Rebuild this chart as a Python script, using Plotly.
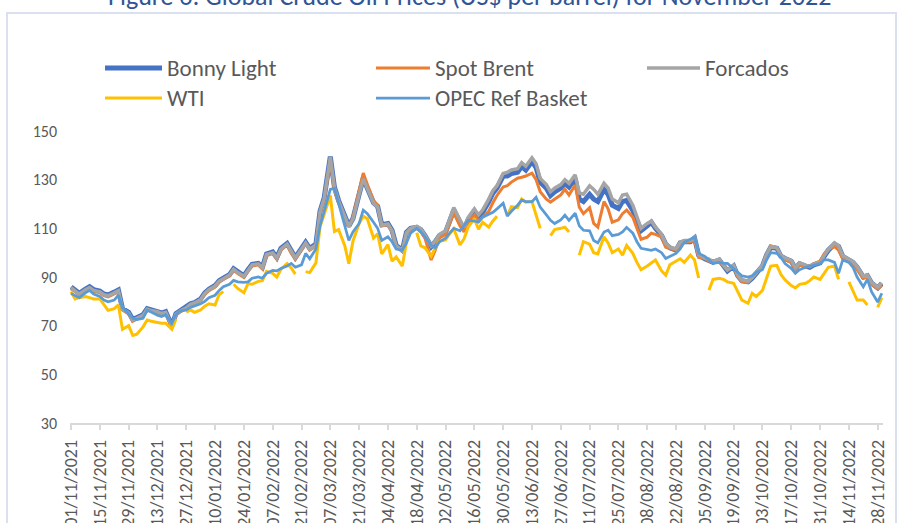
import pandas as pd
import plotly.graph_objects as go

# Trading dates sampled Mon/Wed/Fri, 01/11/2021 .. 30/11/2022
_all = pd.date_range("2021-11-01", "2022-11-30", freq="D")
dates = [d for d in _all if d.weekday() in (0, 2, 4)]

bonny_light = [
    85.9, 84.5, 83.3, 85.0, 86.0, 84.8, 84.2, 83.0, 82.6, 83.8, 84.7, 77.0,
    75.5, 72.5, 73.3, 74.5, 77.0, 76.5, 76.0, 75.2, 75.8, 70.0, 75.0, 76.2,
    77.5, 79.0, 79.5, 81.0, 83.5, 85.0, 86.5, 88.5, 89.5, 91.0, 93.4, 92.0,
    90.5, 93.0, 95.2, 95.6, 94.0, 99.5, 100.3, 98.0, 101.8, 103.8, 100.5, 98.0,
    101.8, 104.3, 101.8, 103.5, 117.0, 122.5, 139.5, 127.0, 121.5, 115.5, 111.0, 114.0,
    124.5, 130.6, 126.5, 120.5, 119.0, 111.5, 112.0, 109.2, 103.0, 101.0, 108.4, 110.0,
    110.4, 109.5, 107.0, 102.5, 104.5, 107.0, 108.4, 113.0, 117.5, 112.5, 109.5, 113.5,
    116.5, 114.5, 116.5, 121.0, 124.5, 126.5, 131.5, 131.5, 132.5, 133.0, 135.5, 134.0,
    137.5, 135.0, 129.0, 126.5, 123.5, 125.0, 126.5, 128.5, 127.0, 130.5, 122.0, 121.0,
    124.0, 122.0, 121.0, 126.0, 124.0, 119.5, 118.2, 121.0, 121.5, 117.4, 113.0, 109.0,
    111.0, 112.5, 110.0, 107.0, 103.5, 102.0, 101.0, 104.0, 104.5, 104.5, 106.0, 99.0,
    97.5, 97.0, 96.0, 97.0, 94.5, 92.5, 94.5, 90.5, 88.5, 88.0, 89.5, 91.5,
    94.5, 99.0, 102.2, 101.8, 98.5, 97.6, 96.5, 93.5, 95.5, 94.5, 94.0, 95.0,
    95.8, 98.5, 101.0, 103.5, 102.5, 98.5, 97.0, 96.0, 94.0, 90.0, 90.5, 87.5,
    85.5, 87.4,
]

spot_brent = [
    85.2, 84.0, 82.8, 84.3, 85.3, 84.2, 83.5, 82.3, 81.8, 83.0, 84.0, 76.5,
    74.8, 71.8, 72.8, 74.0, 76.3, 76.0, 75.3, 74.6, 75.2, 69.4, 74.4, 75.6,
    77.0, 78.4, 79.0, 80.4, 82.9, 84.4, 85.9, 87.8, 89.0, 90.4, 92.8, 91.4,
    89.8, 92.4, 94.5, 95.0, 93.3, 98.8, 99.6, 97.4, 101.1, 103.1, 99.8, 97.3,
    101.1, 103.6, 101.0, 102.7, 116.0, 121.5, 137.5, 125.5, 120.5, 114.0, 110.5, 114.5,
    125.5, 132.7, 128.0, 121.5, 119.5, 111.0, 111.5, 108.5, 102.5, 100.5, 107.5, 109.5,
    110.0, 108.5, 106.0, 97.0, 101.0, 106.0, 107.5, 112.0, 116.5, 111.0, 108.5, 112.5,
    115.5, 113.0, 114.5, 117.0, 120.5, 123.5, 127.0, 127.5, 129.0, 130.6, 131.0, 131.5,
    132.7, 130.0, 125.0, 122.0, 120.8, 122.0, 123.7, 126.0, 123.7, 127.8, 118.7, 116.0,
    118.5, 112.0, 110.5, 121.0, 118.0, 112.5, 113.5, 116.0, 117.5, 114.6, 110.0, 105.5,
    106.4, 108.0, 107.5, 106.4, 102.2, 101.8, 101.0, 103.0, 104.3, 104.5, 105.0, 98.0,
    97.6, 96.5, 96.0, 96.0, 95.0, 93.0, 94.0, 90.0, 88.0, 87.8, 89.8, 91.5,
    94.5, 99.0, 102.8, 102.0, 98.5, 97.0, 96.0, 93.0, 95.0, 94.0, 94.5, 95.5,
    96.5, 99.5, 101.5, 102.5, 101.0, 97.5, 96.5, 95.0, 93.0, 89.5, 90.0, 87.0,
    85.0, 86.5,
]

forcados = [
    85.6, 84.2, 83.0, 84.8, 85.7, 84.5, 83.9, 82.7, 82.3, 83.5, 84.4, 76.8,
    75.2, 72.3, 73.1, 74.2, 76.8, 76.2, 75.7, 75.0, 75.5, 69.8, 74.8, 76.0,
    77.3, 78.8, 79.3, 80.8, 83.3, 84.8, 86.3, 88.3, 89.3, 90.8, 93.2, 91.8,
    90.3, 92.8, 95.0, 95.4, 93.8, 99.3, 100.0, 97.8, 101.5, 103.5, 100.3, 97.8,
    101.5, 104.0, 101.5, 103.2, 116.8, 122.3, 139.3, 126.8, 121.3, 115.3, 110.8, 113.8,
    124.2, 130.3, 126.3, 120.3, 118.8, 111.3, 111.8, 109.0, 102.8, 100.8, 108.2, 110.0,
    110.8, 109.8, 107.2, 102.8, 104.8, 107.5, 109.0, 113.8, 118.5, 113.5, 110.5, 114.5,
    118.0, 115.5, 117.5, 122.0, 125.5, 127.5, 132.5, 133.0, 134.0, 134.5, 137.0, 135.5,
    139.0, 136.5, 130.5, 128.0, 125.0, 126.5, 128.0, 130.0, 128.5, 132.0, 124.5, 124.0,
    127.5, 126.0, 124.0, 128.5, 126.5, 122.0, 120.5, 123.7, 124.0, 119.5, 114.5, 110.0,
    112.0, 113.0, 110.5, 107.5, 103.8, 102.3, 101.5, 104.3, 105.0, 105.0, 106.3, 99.3,
    97.8, 97.3, 96.3, 97.3, 94.8, 92.8, 94.8, 90.8, 88.8, 88.3, 89.8, 91.8,
    94.8, 99.3, 102.5, 102.0, 98.8, 97.8, 96.8, 93.8, 95.8, 94.8, 94.3, 95.3,
    96.0, 98.8, 101.3, 104.0, 102.8, 98.8, 97.3, 96.3, 94.3, 90.3, 90.8, 87.8,
    85.8, 87.6,
]

wti = [
    84.0, 81.0, 81.5, 82.0, 81.5, 81.0, 81.0, 78.5, 76.3, 77.0, 78.5, 68.5,
    70.0, 66.0, 66.5, 69.5, 72.3, 71.8, 71.3, 71.0, 71.0, 68.5, 72.8, None,
    75.5, 76.5, 75.5, 76.5, 78.0, 79.0, 78.5, 82.8, 84.0, None, 87.0, 85.3,
    83.5, 87.3, 87.0, 88.2, 88.5, 92.3, 91.5, 90.0, 93.2, 95.5, 93.7, 91.2,
    None, 92.2, 91.8, 95.8, 110.6, 115.7, 123.5, 108.7, 109.5, 103.0, 95.5, 104.7,
    112.0, 115.0, 113.9, 106.0, 107.8, 99.5, 103.3, 96.5, 98.3, 94.5, 104.3, None,
    108.2, 102.8, 102.0, 98.5, 102.0, 104.7, 105.2, 107.8, 109.8, 103.2, 105.7, 110.5,
    114.0, 109.6, 112.5, 110.5, 113.0, 115.0, None, 115.3, 118.9, 118.5, 122.0, 120.7,
    121.0, 115.5, 110.0, None, 107.0, 109.5, 110.0, 110.5, 108.5, None, 99.0, 104.5,
    103.5, 100.0, 99.5, 106.5, 104.0, 100.0, 101.5, 99.0, 103.0, 99.7, 96.0, 93.0,
    94.5, 95.8, 97.0, 92.5, 90.7, 95.0, 96.5, 97.5, 96.0, 99.0, 97.0, 89.6,
    None, 84.6, 89.0, 89.5, 89.0, 88.0, 87.4, 84.0, 80.5, 79.2, 83.3, 82.0,
    84.5, 89.5, 94.5, 94.8, 91.0, 88.8, 86.5, 85.5, 87.0, 87.4, 88.5, 90.0,
    89.0, 91.5, 94.0, 94.5, 89.0, None, 88.0, 84.5, 80.5, 80.5, 78.5, None,
    77.5, 81.5,
]

opec_basket = [
    83.2, 82.5, 81.5, 83.5, 84.5, 83.0, 82.0, 80.5, 79.8, 80.5, 82.5, 77.5,
    75.0, 73.0, 72.5, 73.0, 76.4, 75.5, 74.3, 73.8, 74.5, 71.0, 74.5, 76.0,
    76.5, 77.5, 78.0, 79.0, 80.0, 81.5, 82.5, 84.5, 86.0, 87.0, 88.6, 88.0,
    87.8, 88.0, 89.5, 90.0, 89.5, 91.5, 92.7, 92.5, 93.5, 94.5, 95.6, 94.0,
    95.0, 99.7, 97.5, 101.5, 111.0, 117.0, 126.0, 126.5, 120.5, 112.0, 105.0, 108.5,
    112.0, 117.5, 116.0, 112.5, 110.0, 105.0, 106.5, 104.5, 101.5, 101.0, 104.0, 108.0,
    110.0, 108.5, 106.5, 103.0, 102.0, 104.5, 106.0, 108.0, 110.0, 109.0, 111.0, 113.3,
    113.0, 112.5, 114.6, 116.0, 116.6, 118.0, 120.3, 115.0, 117.0, 119.5, 121.6, 121.0,
    121.0, 122.8, 118.7, 115.5, 113.3, 112.0, 113.5, 115.4, 113.3, 116.2, 111.0, 109.2,
    109.0, 105.0, 104.0, 108.5, 109.2, 107.0, 107.5, 108.5, 110.4, 108.0, 104.5, 101.8,
    101.5, 101.0, 101.5, 100.0, 97.6, 98.5, 99.7, 101.5, 104.3, 105.5, 106.4, 99.7,
    98.5, 97.0, 95.6, 96.0, 95.6, 95.6, 93.5, 92.0, 90.5, 90.0, 90.5, 92.0,
    93.0, 97.0, 100.0, 99.7, 98.0, 95.5, 93.5, 91.5, 93.0, 94.0, 94.5, 95.0,
    95.5, 97.0, 97.0, 96.0, 91.5, 97.0, 96.0, 94.0, 90.0, 86.0, 89.0, 84.0,
    79.7, 83.3,
]

series_names = ["Bonny Light", "Spot Brent", "Forcados", "WTI", "OPEC Ref Basket"]
series_values = [bonny_light, spot_brent, forcados, wti, opec_basket]
for _n, _v in zip(series_names, series_values):
    assert len(_v) == len(dates), (_n, len(_v), len(dates))

colors = ["#4472C4", "#ED7D31", "#A5A5A5", "#FFC000", "#5B9BD5"]
widths = [5, 3, 3.5, 3, 2.75]

FONT = "Calibri, Carlito, Lato, sans-serif"
TXT = "#595959"

fig = go.Figure()
for name, vals, c, w in zip(series_names, series_values, colors, widths):
    fig.add_trace(go.Scatter(x=dates, y=vals, mode="lines", name=name,
                             line=dict(color=c, width=w), showlegend=False,
                             connectgaps=False))

# plot-area geometry in pixels (for paper-coordinate decorations)
L, R, T, B = 70, 883, 131, 423
def px(xp):
    return (xp - L) / (R - L)
def py(yp):
    return (B - yp) / (B - T)

shapes = [
    dict(type="rect", xref="paper", yref="paper", x0=px(7), x1=px(896), y0=py(560), y1=py(13),
         line=dict(color="#D9E1F0", width=2), fillcolor="rgba(0,0,0,0)", layer="below"),
]
annotations = [
    dict(text="Figure 6: Global Crude Oil Prices (US$ per barrel) for November 2022",
         xref="paper", yref="paper", x=px(469), y=py(-4), xanchor="center", yanchor="middle",
         showarrow=False, font=dict(family=FONT, size=26, color="#2F5597")),
]
# manual legend: (line x0, line x1, y, text)
leg_pos = [(105, 162, 68), (376, 430, 68), (647, 700, 68), (105, 162, 98), (376, 430, 98)]
for (x0, x1, yy), name, c, w in zip(leg_pos, series_names, colors, widths):
    shapes.append(dict(type="line", xref="paper", yref="paper", x0=px(x0), x1=px(x1),
                       y0=py(yy), y1=py(yy), line=dict(color=c, width=w)))
    annotations.append(dict(text=name, xref="paper", yref="paper", x=px(x1 + 3), y=py(yy),
                            xanchor="left", yanchor="middle", showarrow=False,
                            font=dict(family=FONT, size=23, color=TXT)))

fig.update_layout(
    width=900, height=523, autosize=False,
    margin=dict(l=L, r=900 - R, t=T, b=523 - B),
    paper_bgcolor="white", plot_bgcolor="white",
    font=dict(family=FONT, color=TXT),
    shapes=shapes, annotations=annotations,
    showlegend=False,
    xaxis=dict(type="date", range=["2021-10-31 12:00", "2022-11-30 14:00"],
               tick0="2021-11-01", dtick=14 * 86400000, tickformat="%d/%m/%Y",
               tickangle=-90, ticks="outside", ticklen=5, tickcolor="#D9D9D9", tickwidth=1.5,
               showline=True, linecolor="#D9D9D9", linewidth=1.5, showgrid=False,
               zeroline=False, ticklabelstandoff=3, automargin=False,
               tickfont=dict(family=FONT, size=18, color=TXT)),
    yaxis=dict(range=[30, 150], tick0=30, dtick=20, showgrid=False, zeroline=False,
               showline=False, ticks="", ticklabelstandoff=12, automargin=False,
               tickfont=dict(family=FONT, size=16, color=TXT)),
)

fig.write_html("out.html", config={"displayModeBar": False},
               post_script="document.body.style.margin='0';")
